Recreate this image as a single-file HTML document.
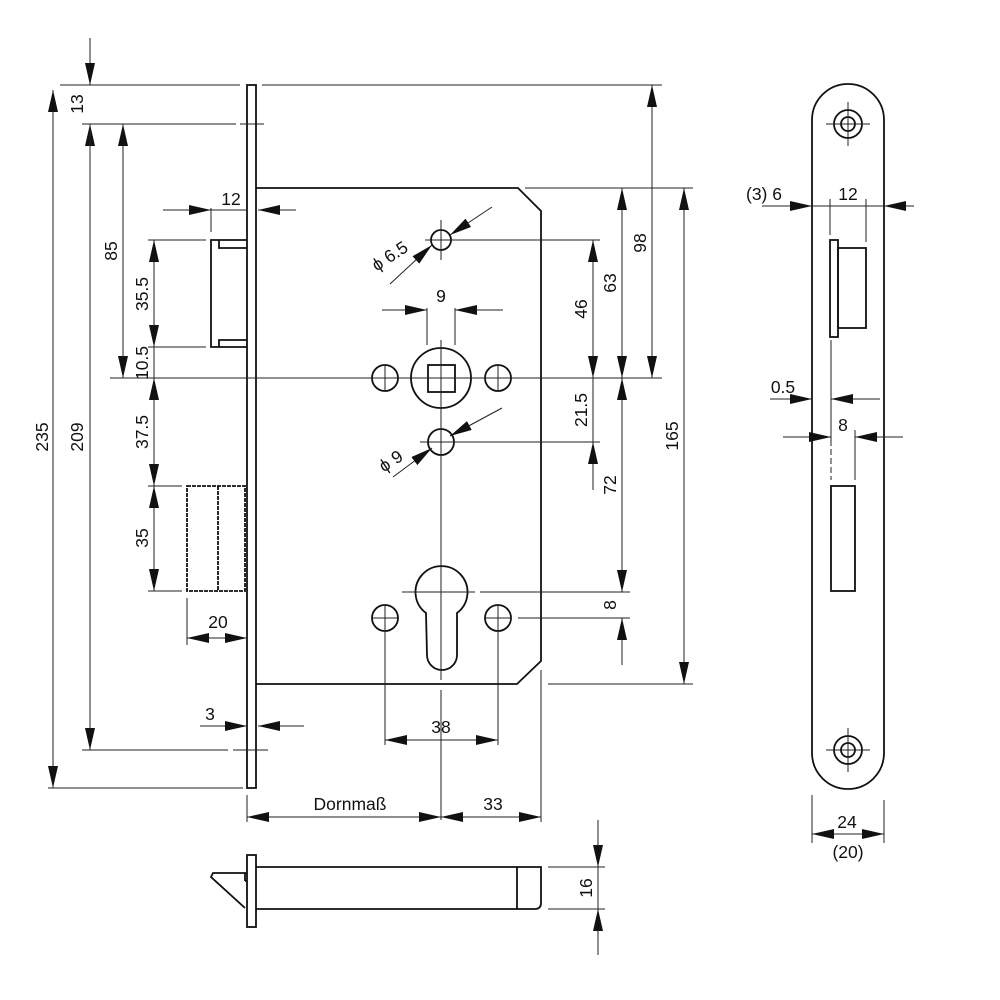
<!DOCTYPE html>
<html><head><meta charset="utf-8"><style>
html,body{margin:0;padding:0;background:#fff}
svg{display:block}
text{font-family:"Liberation Sans",sans-serif;font-size:17.5px;fill:#111}
.o{stroke:#111;stroke-width:1.8;fill:none}
.t{stroke:#222;stroke-width:1;fill:none}
.d{stroke:#222;stroke-width:1;fill:none;marker-end:url(#a)}
.dd{stroke:#222;stroke-width:1;fill:none;marker-end:url(#a);marker-start:url(#b)}
</style></head><body>
<svg width="1000" height="1000" viewBox="0 0 1000 1000" xmlns="http://www.w3.org/2000/svg">
<defs>
<marker id="a" markerUnits="userSpaceOnUse" markerWidth="24" markerHeight="12" refX="22" refY="5" orient="auto"><path d="M0,0 L22,5 L0,10 Z" fill="#111"/></marker>
<marker id="b" markerUnits="userSpaceOnUse" markerWidth="24" markerHeight="12" refX="0" refY="5" orient="auto"><path d="M22,0 L0,5 L22,10 Z" fill="#111"/></marker>
</defs>

<rect x="247" y="85" width="9" height="703" class="o"/>
<path d="M256,188 L518,188 L541,211 L541,661 L517,684 L256,684" class="o"/>
<path d="M247,240 L211,240 L211,347 L247,347 M219,240 L219,248 L247,248 M219,347 L219,340 L247,340" class="o" stroke-width="1.5"/>
<rect x="187" y="486" width="58" height="105" class="o" stroke-width="1.4" stroke-dasharray="4,1"/>
<line x1="218" y1="486" x2="218" y2="591" class="o" stroke-width="1.4" stroke-dasharray="4,1"/>

<g class="o" stroke-width="1.6">
<circle cx="441" cy="240" r="10"/>
<circle cx="441" cy="378" r="30"/>
<rect x="428" y="365" width="27" height="27"/>
<circle cx="385" cy="378" r="13"/>
<circle cx="498" cy="378" r="13"/>
<circle cx="441" cy="442" r="13"/>
<circle cx="385" cy="618" r="13"/>
<circle cx="498" cy="618" r="13"/>
<path d="M426,613 A26,26 0 1 1 457,613 L457,655 A15,15 0 0 1 427,655 Z"/>
</g>

<g class="t">
<line x1="441" y1="220" x2="441" y2="260"/><line x1="425" y1="240" x2="600" y2="240"/>
<line x1="441" y1="340" x2="441" y2="680"/>
<line x1="110" y1="378" x2="662" y2="378"/>
<line x1="420" y1="442" x2="600" y2="442"/>
<line x1="402" y1="592" x2="475" y2="592"/><line x1="480" y1="592" x2="630" y2="592"/>
<line x1="372" y1="618" x2="398" y2="618"/><line x1="485" y1="618" x2="511" y2="618"/><line x1="518" y1="618" x2="630" y2="618"/>
<line x1="385" y1="605" x2="385" y2="745"/><line x1="498" y1="605" x2="498" y2="745"/>
<line x1="441" y1="690" x2="441" y2="820"/>
<line x1="541" y1="670" x2="541" y2="822"/>
<line x1="247" y1="795" x2="247" y2="822"/>
<line x1="60" y1="85" x2="240" y2="85"/><line x1="262" y1="85" x2="662" y2="85"/>
<line x1="82" y1="124" x2="236" y2="124"/><line x1="240" y1="124" x2="264" y2="124"/>
<line x1="48" y1="788" x2="243" y2="788"/>
<line x1="82" y1="750" x2="228" y2="750"/><line x1="233" y1="750" x2="268" y2="750"/>
<line x1="148" y1="240" x2="206" y2="240"/><line x1="148" y1="347" x2="206" y2="347"/>
<line x1="148" y1="486" x2="182" y2="486"/><line x1="148" y1="591" x2="182" y2="591"/>
<line x1="525" y1="188" x2="693" y2="188"/>
<line x1="548" y1="684" x2="693" y2="684"/>
<line x1="211" y1="208" x2="211" y2="232"/>
<line x1="187" y1="598" x2="187" y2="645"/>
<line x1="427" y1="308" x2="427" y2="345"/><line x1="455" y1="308" x2="455" y2="345"/>
</g>
<g class="t">
<line x1="372" y1="378" x2="398" y2="378"/><line x1="385" y1="365" x2="385" y2="391"/>
<line x1="485" y1="378" x2="511" y2="378"/><line x1="498" y1="365" x2="498" y2="391"/>
<line x1="385" y1="605" x2="385" y2="631"/><line x1="498" y1="605" x2="498" y2="631"/>
</g>

<line x1="53" y1="90" x2="53" y2="788" class="dd"/>
<text transform="translate(48,437) rotate(-90)" text-anchor="middle">235</text>
<line x1="90" y1="38" x2="90" y2="85" class="d"/>
<line x1="90" y1="160" x2="90" y2="124" class="d"/>
<text transform="translate(83,104) rotate(-90)" text-anchor="middle">13</text>
<line x1="90" y1="124" x2="90" y2="750" class="d"/>
<text transform="translate(83,437) rotate(-90)" text-anchor="middle">209</text>
<line x1="123" y1="124" x2="123" y2="378" class="dd"/>
<text transform="translate(117,251) rotate(-90)" text-anchor="middle">85</text>
<line x1="154" y1="240" x2="154" y2="347" class="dd"/>
<text transform="translate(148,294) rotate(-90)" text-anchor="middle">35.5</text>
<line x1="154" y1="347" x2="154" y2="378" class="t"/>
<text transform="translate(148,363) rotate(-90)" text-anchor="middle">10.5</text>
<line x1="154" y1="378" x2="154" y2="486" class="dd"/>
<text transform="translate(148,432) rotate(-90)" text-anchor="middle">37.5</text>
<line x1="154" y1="486" x2="154" y2="591" class="dd"/>
<text transform="translate(148,538) rotate(-90)" text-anchor="middle">35</text>
<line x1="163" y1="210" x2="211" y2="210" class="d"/>
<line x1="296" y1="210" x2="258" y2="210" class="d"/>
<line x1="211" y1="210" x2="247" y2="210" class="t"/>
<text x="231" y="205" text-anchor="middle">12</text>
<line x1="187" y1="638" x2="247" y2="638" class="dd"/>
<text x="218" y="628" text-anchor="middle">20</text>
<line x1="200" y1="726" x2="247" y2="726" class="d"/>
<line x1="304" y1="726" x2="258" y2="726" class="d"/>
<text x="210" y="720" text-anchor="middle">3</text>

<line x1="382" y1="310" x2="427" y2="310" class="d"/>
<line x1="503" y1="310" x2="455" y2="310" class="d"/>
<text x="441" y="302" text-anchor="middle">9</text>
<line x1="390" y1="284" x2="432" y2="245" class="d"/>
<line x1="492" y1="207" x2="450" y2="235" class="d"/>
<text transform="translate(393,261) rotate(-33)" text-anchor="middle">ϕ 6.5</text>
<line x1="393" y1="477" x2="432" y2="448" class="d"/>
<line x1="502" y1="408" x2="450" y2="436" class="d"/>
<text transform="translate(394,466) rotate(-33)" text-anchor="middle">ϕ 9</text>
<line x1="385" y1="740" x2="498" y2="740" class="dd"/>
<text x="441" y="733" text-anchor="middle">38</text>
<line x1="247" y1="817" x2="441" y2="817" class="dd"/>
<text x="350" y="810" text-anchor="middle">Dornmaß</text>
<line x1="441" y1="817" x2="541" y2="817" class="dd"/>
<text x="493" y="810" text-anchor="middle">33</text>

<line x1="593" y1="240" x2="593" y2="378" class="dd"/>
<text transform="translate(587,309) rotate(-90)" text-anchor="middle">46</text>
<line x1="593" y1="490" x2="593" y2="442" class="d"/>
<line x1="593" y1="378" x2="593" y2="442" class="t"/>
<text transform="translate(587,410) rotate(-90)" text-anchor="middle">21.5</text>
<line x1="622" y1="188" x2="622" y2="378" class="dd"/>
<text transform="translate(616,283) rotate(-90)" text-anchor="middle">63</text>
<line x1="622" y1="378" x2="622" y2="592" class="dd"/>
<text transform="translate(616,485) rotate(-90)" text-anchor="middle">72</text>
<line x1="622" y1="665" x2="622" y2="618" class="d"/>
<text transform="translate(616,605) rotate(-90)" text-anchor="middle">8</text>
<line x1="652" y1="85" x2="652" y2="378" class="dd"/>
<text transform="translate(646,243) rotate(-90)" text-anchor="middle">98</text>
<line x1="684" y1="188" x2="684" y2="684" class="dd"/>
<text transform="translate(678,436) rotate(-90)" text-anchor="middle">165</text>

<rect x="247" y="855" width="9" height="72" class="o" stroke-width="1.6"/>
<path d="M256,867 L541,867 L541,903 Q541,909 535,909 L256,909 M517,867 L517,909" class="o" stroke-width="1.6"/>
<path d="M247,873 L213,873 L211,877 L245,908 M245,881 L247,881" class="o" stroke-width="1.5"/>
<line x1="245" y1="873" x2="245" y2="881" class="o" stroke-width="1.2"/>
<line x1="548" y1="867" x2="605" y2="867" class="t"/><line x1="548" y1="909" x2="605" y2="909" class="t"/>
<line x1="598" y1="820" x2="598" y2="867" class="d"/>
<line x1="598" y1="955" x2="598" y2="909" class="d"/>
<line x1="598" y1="867" x2="598" y2="909" class="t"/>
<text transform="translate(592,888) rotate(-90)" text-anchor="middle">16</text>

<path d="M812,120 A36,36 0 0 1 884,120 L884,753 A36,36 0 0 1 812,753 Z" class="o"/>
<g class="o" stroke-width="1.5">
<circle cx="848" cy="124" r="14"/><circle cx="848" cy="124" r="7"/>
<circle cx="848" cy="750" r="14"/><circle cx="848" cy="750" r="7"/>
<rect x="830" y="240" width="8" height="97"/>
<rect x="838" y="248" width="28" height="80"/>
<rect x="831" y="486" width="24" height="105"/>
</g>
<g class="t">
<line x1="826" y1="124" x2="870" y2="124"/><line x1="848" y1="102" x2="848" y2="146"/>
<line x1="826" y1="750" x2="870" y2="750"/><line x1="848" y1="728" x2="848" y2="772"/>
<line x1="830" y1="199" x2="830" y2="235"/><line x1="866" y1="199" x2="866" y2="242"/>
<line x1="831" y1="340" x2="831" y2="440"/><line x1="855" y1="430" x2="855" y2="480"/>
<line x1="831" y1="440" x2="831" y2="480" stroke-dasharray="6,3"/>
<line x1="812" y1="795" x2="812" y2="843"/><line x1="884" y1="800" x2="884" y2="843"/>
<line x1="812" y1="206" x2="884" y2="206"/>
</g>
<line x1="762" y1="206" x2="812" y2="206" class="d"/>
<line x1="914" y1="206" x2="884" y2="206" class="d"/>
<text x="764" y="200" text-anchor="middle">(3) 6</text>
<text x="848" y="200" text-anchor="middle">12</text>
<line x1="770" y1="399" x2="812" y2="399" class="d"/>
<line x1="880" y1="399" x2="831" y2="399" class="d"/>
<text x="783" y="393" text-anchor="middle">0.5</text>
<line x1="783" y1="437" x2="831" y2="437" class="d"/>
<line x1="903" y1="437" x2="855" y2="437" class="d"/>
<text x="843" y="431" text-anchor="middle">8</text>
<line x1="812" y1="834" x2="884" y2="834" class="dd"/>
<text x="847" y="828" text-anchor="middle">24</text>
<text x="848" y="858" text-anchor="middle">(20)</text>
</svg>
</body></html>
